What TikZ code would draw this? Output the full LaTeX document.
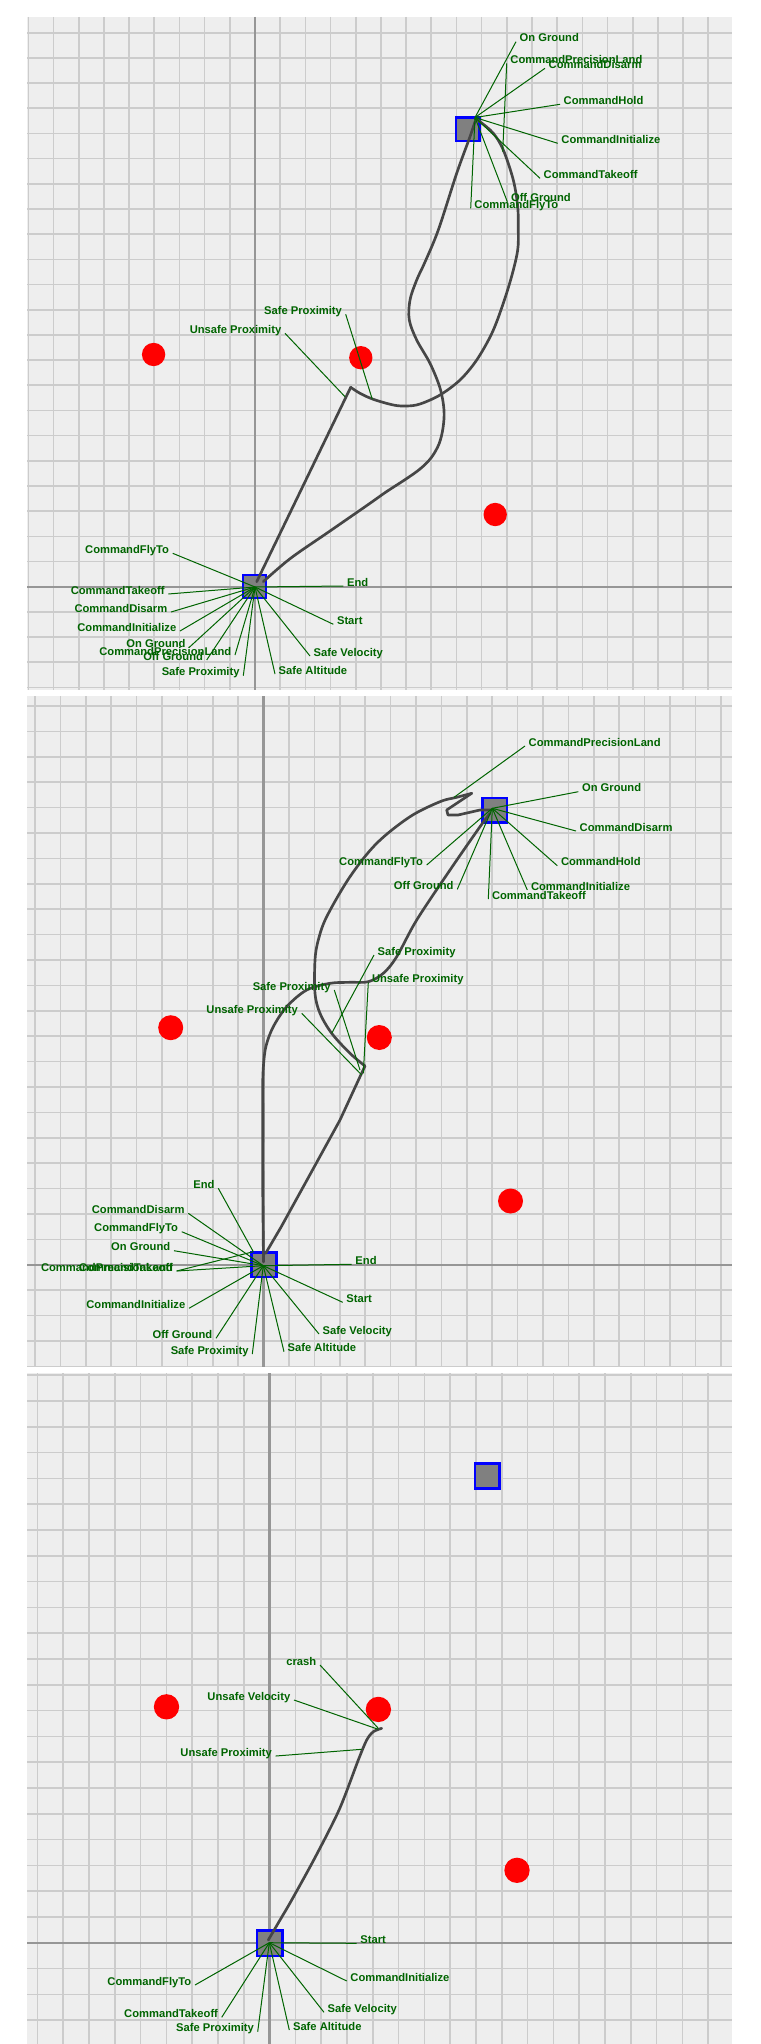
\documentclass[tikz,border=0pt]{standalone}
\usepackage{fontspec}
\setmainfont{Liberation Sans}
\definecolor{panelbg}{RGB}{238,238,238}
\definecolor{gridc}{RGB}{204,204,204}
\definecolor{axisc}{RGB}{150,150,150}
\definecolor{trajc}{RGB}{70,70,70}
\definecolor{lblgreen}{RGB}{0,100,0}
\definecolor{sqblue}{RGB}{0,0,255}
\definecolor{sqgray}{RGB}{128,128,128}
\tikzset{
 lbl/.style={text=lblgreen, font=\bfseries\fontsize{8.4pt}{10pt}\selectfont, inner xsep=2.6pt, inner ysep=0pt},
 leader/.style={draw=lblgreen, line width=0.75pt},
 traj/.style={draw=trajc, line width=2pt, line cap=round, line join=round},
 sq/.style={draw=sqblue, fill=sqgray, line width=1.9pt, inner sep=0pt},
 reddot/.style={circle, fill=red, inner sep=0pt},
 gridln/.style={draw=gridc, line width=1.2pt},
 axisln/.style={draw=axisc, line width=1.8pt},
}
\newcommand{\labR}[4]{\node[lbl,anchor=base west] (#1) at (#3) {#4}; \draw[leader] (#2) -- (#1.base west);}
\newcommand{\labL}[4]{\node[lbl,anchor=base east] (#1) at (#3) {#4}; \draw[leader] (#2) -- (#1.base east);}
\newcommand{\drawpanel}[7]{%
 \fill[panelbg] (#1,#2) rectangle (#3,#4);
 \begin{scope}
 \clip (#1,#2) rectangle (#3,#4);
 \foreach \k in {-12,...,20} {\draw[gridln] ({#5+\k*#7},#2) -- ({#5+\k*#7},#4);}
 \foreach \k in {-30,...,6} {\draw[gridln] (#1,{#6+\k*#7}) -- (#3,{#6+\k*#7});}
 \draw[axisln] (#5,#2) -- (#5,#4);
 \draw[axisln] (#1,#6) -- (#3,#6);
 \end{scope}}
\begin{document}
\begin{tikzpicture}[x=0.75pt,y=-0.75pt]
\useasboundingbox (0,0) rectangle (760,2044);
\fill[white] (0,0) rectangle (760,2044);
% ---------------- panels
\drawpanel{27}{17}{732}{690}{255}{586.7}{25.18}
\drawpanel{27}{696}{732}{1366.5}{263.5}{1264.7}{25.4}
\drawpanel{27}{1373}{732}{2044}{269.5}{1942.7}{25.8}

% ---------------- panel 1
\node[sq, minimum size=17.3pt] (p1s) at (254.5,586.3) {};
\node[sq, minimum size=17.6pt] (p1q) at (467.7,129.3) {};
\node[reddot, minimum size=17.5pt] (p1c1) at (153.6,354.5) {};
\node[reddot, minimum size=17.5pt] (p1c2) at (360.8,357.7) {};
\node[reddot, minimum size=17.5pt] (p1c3) at (495.2,514.5) {};
\draw[traj] (256.7,581.7) -- (350.7,387.3);
\draw[traj] plot[smooth,tension=0.55] coordinates {(350.7,387.3) (360,393.3) (373.3,399.3) (393.3,405) (406.7,406) (420,404) (440,395) (460,380) (476.7,360) (492,333) (503.1,303.8) (512,275) (517.7,250) (518.3,230) (517.7,206.7) (513.3,180) (503.3,150) (493.3,133.3) (480,121.7) (475,119)};
\draw[traj] plot[smooth,tension=0.55] coordinates {(475,121.7) (470,136.7) (456.7,173.3) (438.3,230) (425,262) (416.7,280) (410,300) (409.3,320) (416.7,340) (430,363.3) (440,388) (444,410) (443,428) (439,444) (431,458) (420,469) (406,479) (386,492) (367.7,504.9) (329,531.7) (290.3,558.5) (263.3,581.7)};
\coordinate (p1o) at (255,587);
\coordinate (p1g) at (475,117.5);
\coordinate (p1t1) at (502.7,151.7);
\coordinate (p1t2) at (345,396.7);
\coordinate (p1t3) at (372.3,399.3);
\labR{a1}{p1g}{516,41.7}{On Ground}
\labR{a2}{p1t1}{506.7,63.3}{CommandPrecisionLand}
\labR{a3}{p1g}{545,68.3}{CommandDisarm}
\labR{a4}{p1g}{560,104.3}{CommandHold}
\labR{a5}{p1g}{557.7,143.3}{CommandInitialize}
\labR{a6}{p1g}{540,178.3}{CommandTakeoff}
\labR{a7}{p1g}{507.3,201.7}{Off Ground}
\labR{a8}{p1g}{470.7,208.3}{CommandFlyTo}
\labL{b1}{p1o}{172.7,553.3}{CommandFlyTo}
\labR{b2}{p1o}{343.3,586}{End}
\labL{b3}{p1o}{168.3,594}{CommandTakeoff}
\labL{b4}{p1o}{171,612}{CommandDisarm}
\labL{b5}{p1o}{180,631}{CommandInitialize}
\labR{b6}{p1o}{333.3,624.3}{Start}
\labL{b7}{p1o}{189.3,647.3}{On Ground}
\labL{b8}{p1o}{235,655}{CommandPrecisionLand}
\labL{b9}{p1o}{206.7,660}{Off Ground}
\labL{b10}{p1o}{243.3,675.7}{Safe Proximity}
\labR{b11}{p1o}{275,674}{Safe Altitude}
\labR{b12}{p1o}{310,656}{Safe Velocity}
\labL{b13}{p1t2}{285,333.3}{Unsafe Proximity}
\labL{b14}{p1t3}{345.7,314.3}{Safe Proximity}

% ---------------- panel 2
\node[sq, minimum size=18.4pt] (p2s) at (264,1264.7) {};
\node[sq, minimum size=18.4pt] (p2q) at (494.7,810.3) {};
\node[reddot, minimum size=18.75pt] (p2c1) at (170.7,1027.7) {};
\node[reddot, minimum size=18.75pt] (p2c2) at (379.3,1037.5) {};
\node[reddot, minimum size=18.75pt] (p2c3) at (510.5,1201) {};
\draw[traj] plot[smooth,tension=0.55] coordinates {(263.5,1262) (262.7,1180) (262.7,1120) (262.7,1085) (263.5,1065) (266,1046) (273.3,1026.7) (286.7,1006.7) (306.7,990) (330,983.3) (350,982.3) (368.3,981.7) (383.3,973.3) (396.7,956.7) (416.7,920) (450,870) (480,826.7) (490,813.3)};
\draw[traj] (491,810) -- (480,810) -- (458,815) -- (448,815) -- (446.7,810) -- (471.7,793.3);
\draw[traj] plot[smooth,tension=0.55] coordinates {(471.7,793.3) (456.7,797.3) (440,801.7) (410,816.7) (376.7,843.3) (350,876.7) (326.7,916.7) (318.3,940) (315,960) (315,993.3) (320,1013.3) (331.7,1033.3) (350,1053.3) (365,1066)};
\draw[traj] (365,1066) -- (360,1076.7) -- (340,1120) -- (310.2,1174.2) -- (281.1,1227) -- (265.6,1253.4);
\coordinate (p2o) at (263.3,1265.7);
\coordinate (p2g) at (492.3,808.3);
\coordinate (p2t1) at (454,797.3);
\coordinate (p2t2) at (253.3,1251.7);
\coordinate (p2t3) at (331.7,1033.3);
\coordinate (p2t4) at (363.3,1073.3);
\coordinate (p2t5) at (360,1070);
\coordinate (p2t6) at (361.7,1075);
\labR{c1}{p2t1}{525,746}{CommandPrecisionLand}
\labR{c2}{p2g}{578.3,791.7}{On Ground}
\labR{c3}{p2g}{576,831}{CommandDisarm}
\labR{c4}{p2g}{557.3,865.7}{CommandHold}
\labR{c5}{p2g}{527.3,890}{CommandInitialize}
\labR{c6}{p2g}{488.3,899}{CommandTakeoff}
\labL{c7}{p2g}{426.7,865}{CommandFlyTo}
\labL{c8}{p2g}{457.3,889.3}{Off Ground}
\labL{d1}{p2t2}{218.3,1188.3}{End}
\labL{d2}{p2o}{188.3,1213.3}{CommandDisarm}
\labL{d3}{p2o}{181.7,1231.7}{CommandFlyTo}
\labL{d4}{p2o}{174,1250.7}{On Ground}
\labL{d5}{p2t2}{176.7,1271}{CommandPrecisionLand}
\labL{d6}{p2o}{176.7,1271}{CommandTakeoff}
\labL{d7}{p2o}{189,1308.3}{CommandInitialize}
\labR{d8}{p2o}{351.7,1264.3}{End}
\labR{d9}{p2o}{342.7,1302.3}{Start}
\labL{d10}{p2o}{216,1338.3}{Off Ground}
\labL{d11}{p2o}{252.3,1354}{Safe Proximity}
\labR{d12}{p2o}{284,1351.7}{Safe Altitude}
\labR{d13}{p2o}{319,1334}{Safe Velocity}
\labR{e1}{p2t3}{374,955}{Safe Proximity}
\labR{e2}{p2t4}{368.3,982.7}{Unsafe Proximity}
\labL{e3}{p2t5}{334.3,990}{Safe Proximity}
\labL{e4}{p2t6}{301.7,1013.3}{Unsafe Proximity}

% ---------------- panel 3
\node[sq, minimum size=19.1pt] (p3s) at (269.7,1943.3) {};
\node[sq, minimum size=18.4pt] (p3q) at (487.4,1476) {};
\node[reddot, minimum size=19pt] (p3c1) at (166.5,1706.8) {};
\node[reddot, minimum size=19pt] (p3c2) at (378.4,1709.4) {};
\node[reddot, minimum size=19pt] (p3c3) at (517,1870.3) {};
\draw[traj] plot[smooth,tension=0.5] coordinates {(268.3,1940) (280,1920) (291.7,1900) (315.1,1857.4) (339.3,1809.4) (358.3,1760) (366.7,1740) (373.3,1731.7) (381.7,1728.3)};
\coordinate (p3o) at (269.3,1942.7);
\coordinate (p3t1) at (378.3,1728.3);
\coordinate (p3t2) at (378.3,1729.3);
\coordinate (p3t3) at (361.7,1749.3);
\labL{f1}{p3t1}{320,1665}{crash}
\labL{f2}{p3t2}{294,1700}{Unsafe Velocity}
\labL{f3}{p3t3}{275.7,1756}{Unsafe Proximity}
\labR{g1}{p3o}{356.7,1943.3}{Start}
\labR{g2}{p3o}{346.7,1981}{CommandInitialize}
\labR{g3}{p3o}{324,2012.3}{Safe Velocity}
\labR{g4}{p3o}{289.3,2030}{Safe Altitude}
\labL{g5}{p3o}{257.7,2031.7}{Safe Proximity}
\labL{g6}{p3o}{221.7,2017.3}{CommandTakeoff}
\labL{g7}{p3o}{195,1985}{CommandFlyTo}
\end{tikzpicture}
\end{document}
